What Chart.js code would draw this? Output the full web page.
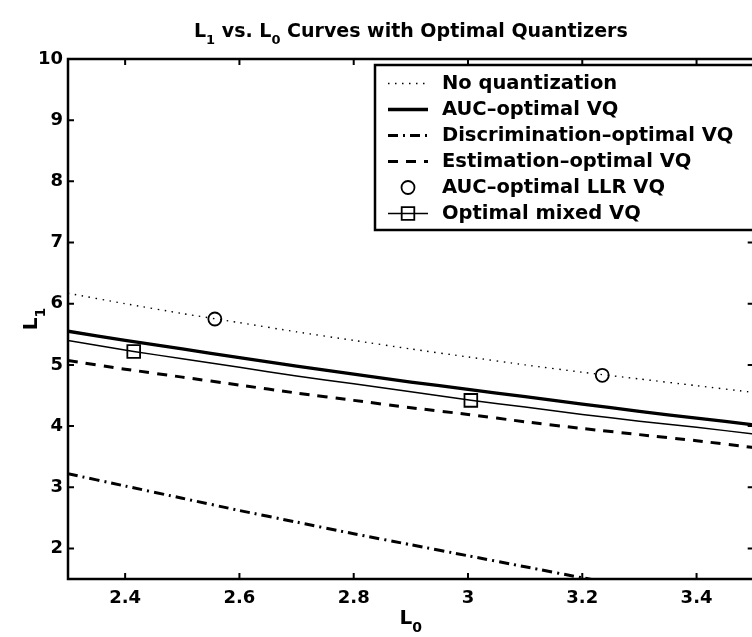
<!DOCTYPE html>
<html>
<head>
<meta charset="utf-8">
<script src="https://cdn.jsdelivr.net/npm/chart.js@4.4.0/dist/chart.umd.min.js"></script>
<style>
  html, body { margin: 0; padding: 0; background: #fff; overflow: hidden; }
  #wrap { width: 752px; height: 637px; overflow: hidden; }
</style>
</head>
<body>
<div id="wrap"><canvas id="chart" width="762" height="637"></canvas></div>
<script>
// L0 grid shared by the curves
const l0 = [2.3, 2.4, 2.5, 2.6, 2.7, 2.8, 2.9, 3.0, 3.1, 3.2, 3.3, 3.4, 3.5]
const noQuant = [6.17, 6.00, 5.84, 5.69, 5.54, 5.40, 5.26, 5.13, 5.00, 4.88, 4.77, 4.66, 4.55]
const aucVQ = [5.55, 5.40, 5.26, 5.12, 4.98, 4.85, 4.72, 4.60, 4.48, 4.36, 4.24, 4.13, 4.02]
const discVQ = [3.22, 3.02, 2.82, 2.62, 2.43, 2.24, 2.06, 1.88, 1.70, 1.52, 1.35, null, null]
const estVQ = [5.07, 4.93, 4.80, 4.67, 4.54, 4.42, 4.30, 4.19, 4.07, 3.96, 3.86, 3.76, 3.65]

// AUC-optimal LLR VQ points
const llrL0 = [2.557, 3.235]
const llrL1 = [5.75, 4.83]

// optimal mixed VQ curve, squares at the marked L0 values
const mixedL0 = [2.3, 2.415, 2.5, 2.6, 2.7, 2.8, 2.9, 3.005, 3.1, 3.2, 3.3, 3.4, 3.5]
const mixedL1 = [5.40, 5.22, 5.10, 4.96, 4.82, 4.69, 4.56, 4.42, 4.31, 4.19, 4.08, 3.98, 3.87]
const mixedMarks = [2.415, 3.005]

const xTicks = [2.4, 2.6, 2.8, 3, 3.2, 3.4]
const yTicks = [2, 3, 4, 5, 6, 7, 8, 9, 10]

const FONT = '"DejaVu Sans", sans-serif'
const toXY = (xs, ys) => xs.map((x, i) => ({ x: x, y: ys[i] }))

// text with subscripts: parts = [[text, isSub], ...]
function subText(ctx, parts, x, y, size, rot) {
  ctx.save()
  ctx.translate(x, y)
  if (rot) ctx.rotate(rot)
  const subSize = Math.round(size * 0.7)
  let total = 0
  parts.forEach(p => {
    ctx.font = 'bold ' + (p[1] ? subSize : size) + 'px ' + FONT
    total += ctx.measureText(p[0]).width
  })
  let cx = -total / 2
  ctx.fillStyle = '#000'
  ctx.textBaseline = 'alphabetic'
  ctx.textAlign = 'left'
  parts.forEach(p => {
    ctx.font = 'bold ' + (p[1] ? subSize : size) + 'px ' + FONT
    ctx.fillText(p[0], cx, p[1] ? size * 0.38 : 0)
    cx += ctx.measureText(p[0]).width
  })
  ctx.restore()
}

const framePlugin = {
  id: 'frame',
  afterDraw(chart) {
    const ctx = chart.ctx
    const a = chart.chartArea
    const xs = chart.scales.x, ys = chart.scales.y
    ctx.save()
    ctx.strokeStyle = '#000'
    ctx.lineWidth = 2.5
    ctx.strokeRect(a.left, a.top, a.right - a.left, a.bottom - a.top)
    ctx.lineWidth = 2
    ctx.beginPath()
    xTicks.forEach(v => {
      const px = xs.getPixelForValue(v)
      ctx.moveTo(px, a.bottom); ctx.lineTo(px, a.bottom - 6)
      ctx.moveTo(px, a.top); ctx.lineTo(px, a.top + 6)
    })
    yTicks.forEach(v => {
      const py = ys.getPixelForValue(v)
      ctx.moveTo(a.left, py); ctx.lineTo(a.left + 6, py)
      ctx.moveTo(a.right, py); ctx.lineTo(a.right - 6, py)
    })
    ctx.stroke()

    // titles
    subText(ctx, [['L', 0], ['1', 1], [' vs. L', 0], ['0', 1], [' Curves with Optimal Quantizers', 0]],
      (a.left + a.right) / 2, 37, 19)
    subText(ctx, [['L', 0], ['0', 1]], (a.left + a.right) / 2, 624, 20)
    subText(ctx, [['L', 0], ['1', 1]], 37, (a.top + a.bottom) / 2, 20, -Math.PI / 2)

    // legend box
    const bx = 375, by = 65, bh = 165
    ctx.fillStyle = '#fff'
    ctx.fillRect(bx, by, 500, bh)
    ctx.lineWidth = 2.5
    ctx.strokeRect(bx, by, 500, bh)
    chart.data.datasets.forEach((ds, i) => {
      const ry = 83.5 + i * 26
      ctx.save()
      ctx.strokeStyle = '#000'
      if (ds.showLine !== false) {
        ctx.lineWidth = ds.borderWidth
        ctx.setLineDash(ds.borderDash || [])
        ctx.beginPath()
        ctx.moveTo(388, ry); ctx.lineTo(428, ry)
        ctx.stroke()
      }
      ctx.setLineDash([])
      if (ds.legendMarker) {
        ctx.lineWidth = 1.8
        ctx.beginPath()
        if (ds.legendMarker === 'circle') ctx.arc(408, ry, 6.5, 0, Math.PI * 2)
        else ctx.rect(408 - 6.3, ry - 6.3, 12.6, 12.6)
        ctx.stroke()
      }
      ctx.fillStyle = '#000'
      ctx.font = 'bold 19.5px ' + FONT
      ctx.textBaseline = 'middle'
      ctx.textAlign = 'left'
      ctx.fillText(ds.label, 442, ry)
      ctx.restore()
    })
    ctx.restore()
  }
}

new Chart(document.getElementById('chart'), {
  type: 'line',
  data: {
    datasets: [{
      label: 'No quantization',
      data: toXY(l0, noQuant),
      borderColor: '#000',
      borderWidth: 1.4,
      borderDash: [1.5, 5.5],
      pointRadius: 0
    }, {
      label: 'AUC–optimal VQ',
      data: toXY(l0, aucVQ),
      borderColor: '#000',
      borderWidth: 3.3,
      pointRadius: 0
    }, {
      label: 'Discrimination–optimal VQ',
      data: toXY(l0, discVQ),
      borderColor: '#000',
      borderWidth: 3,
      borderDash: [10, 5, 2, 5],
      pointRadius: 0
    }, {
      label: 'Estimation–optimal VQ',
      data: toXY(l0, estVQ),
      borderColor: '#000',
      borderWidth: 3,
      borderDash: [10, 8],
      pointRadius: 0
    }, {
      label: 'AUC–optimal LLR VQ',
      data: toXY(llrL0, llrL1),
      showLine: false,
      borderColor: '#000',
      pointStyle: 'circle',
      pointRadius: 6.5,
      pointBorderWidth: 1.8,
      pointBackgroundColor: 'rgba(0,0,0,0)',
      legendMarker: 'circle'
    }, {
      label: 'Optimal mixed VQ',
      data: toXY(mixedL0, mixedL1),
      borderColor: '#000',
      borderWidth: 1.5,
      pointStyle: 'rect',
      pointRadius: mixedL0.map(x => mixedMarks.includes(x) ? 9 : 0),
      pointBorderWidth: 1.8,
      pointBackgroundColor: 'rgba(0,0,0,0)',
      legendMarker: 'rect'
    }]
  },
  options: {
    responsive: false,
    animation: false,
    devicePixelRatio: 1,
    layout: { padding: { top: 59, right: 3, left: 0, bottom: 0 } },
    elements: { line: { tension: 0.2 } },
    plugins: {
      legend: { display: false },
      tooltip: { enabled: false },
      title: { display: false }
    },
    scales: {
      x: {
        type: 'linear',
        min: 2.3,
        max: 3.5,
        afterFit: s => { s.height = 58 },
        afterBuildTicks: s => { s.ticks = xTicks.map(v => ({ value: v })) },
        grid: { display: false, drawTicks: false },
        border: { display: false },
        ticks: {
          padding: 9,
          color: '#000',
          font: { family: FONT, size: 18, weight: 'bold' },
          callback: v => String(+v.toFixed(2))
        }
      },
      y: {
        min: 1.5,
        max: 10,
        afterFit: s => { s.width = 68 },
        afterBuildTicks: s => { s.ticks = yTicks.map(v => ({ value: v })) },
        grid: { display: false, drawTicks: false },
        border: { display: false },
        ticks: {
          padding: 5,
          color: '#000',
          font: { family: FONT, size: 18, weight: 'bold' },
          callback: v => String(v)
        }
      }
    }
  },
  plugins: [framePlugin]
})
</script>
</body>
</html>
